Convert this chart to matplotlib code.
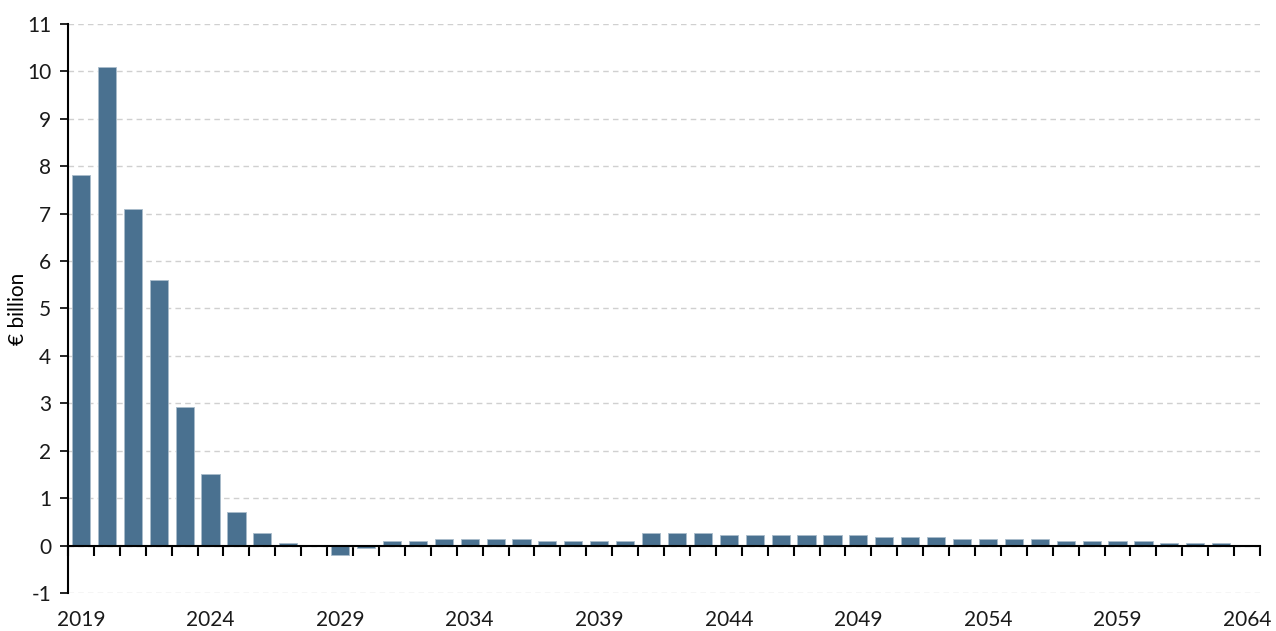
import matplotlib
matplotlib.use("Agg")
import matplotlib.pyplot as plt
import numpy as np

years = list(range(2019, 2065))
values = [7.82, 10.1, 7.1, 5.6, 2.93, 1.5, 0.7, 0.27, 0.06, 0.01,
          -0.19, -0.06, 0.10, 0.10, 0.14, 0.14, 0.14, 0.14, 0.10, 0.10,
          0.10, 0.10, 0.27, 0.27, 0.27, 0.23, 0.23, 0.23, 0.23, 0.23,
          0.23, 0.18, 0.18, 0.18, 0.14, 0.14, 0.14, 0.14, 0.10, 0.10,
          0.10, 0.10, 0.05, 0.05, 0.05, 0.0]
label_years = [2019, 2024, 2029, 2034, 2039, 2044, 2049, 2054, 2059, 2064]
y_ticks = list(range(-1, 12))
ylabel = "€ billion"

plt.rcParams['font.family'] = ['Lato', 'DejaVu Sans']

fig = plt.figure(figsize=(12.76, 6.31), dpi=100)
ax = fig.add_axes([0.0533, 0.0602, 0.9342, 0.902])

ax.bar(years, values, width=0.7, color="#4a7190", edgecolor="#a9bccb", linewidth=0.6, zorder=3)

ax.set_xlim(years[0] - 0.5, years[-1] + 0.5)
ax.set_ylim(-1, 11)
ax.set_yticks(y_ticks)
ax.set_yticklabels([str(v) for v in y_ticks], fontsize=15, color="#1a1a1a")
ax.yaxis.grid(True, linestyle=(0, (4, 3)), color="#d0d0d0", linewidth=1.0, zorder=0)
ax.tick_params(axis='y', direction='out', length=6, width=1.2, pad=6, color="#000000")

for s in ['top', 'right']:
    ax.spines[s].set_visible(False)
ax.spines['left'].set_linewidth(1.5)
ax.spines['bottom'].set_position(('data', 0))
ax.spines['bottom'].set_linewidth(1.5)
ax.spines['bottom'].set_zorder(4)

bounds = np.arange(years[0] - 0.5, years[-1] + 1.0, 1.0)
ax.set_xticks(bounds)
ax.set_xticklabels([])
ax.tick_params(axis='x', direction='out', length=7, width=1.5, color="#000000")

sec = ax.secondary_xaxis('bottom')
sec.set_xticks(label_years)
sec.set_xticklabels([str(y) for y in label_years], fontsize=15, color="#1a1a1a")
sec.tick_params(axis='x', length=0, pad=12)
sec.spines['bottom'].set_visible(False)

ax.set_ylabel(ylabel, fontsize=15, labelpad=-1)

fig.savefig("out.png", dpi=100)
